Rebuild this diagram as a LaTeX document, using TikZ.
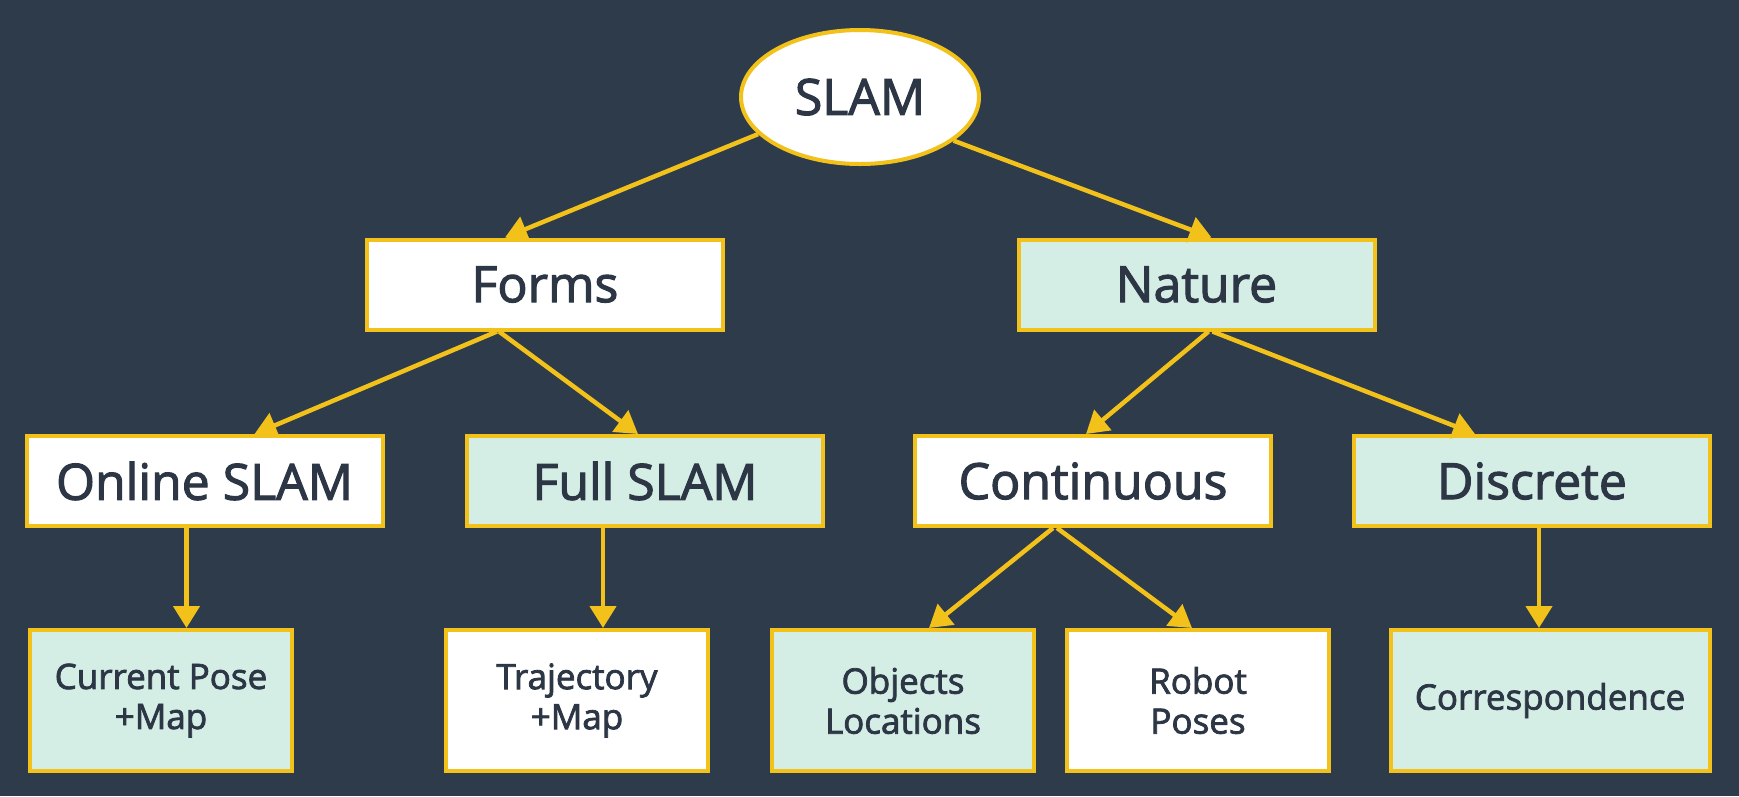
\documentclass[tikz,border=0pt]{standalone}
\usepackage{fontspec}
\setmainfont{Open Sans}[RawFeature={embolden=2.2}]
\usetikzlibrary{arrows.meta,shapes.geometric,calc}
\definecolor{bgnavy}{HTML}{2E3B4A}
\definecolor{gold}{HTML}{F2C21B}
\definecolor{mint}{HTML}{D4EEE5}
\definecolor{inktext}{HTML}{2C3645}
\begin{document}
\begin{tikzpicture}[x=1pt,y=-1pt,
  box/.style={draw=gold,line width=4pt,rectangle,inner sep=0pt,
    text=inktext,align=center},
  bigbox/.style={box,minimum width=356pt,minimum height=90pt,
    font=\fontsize{50}{54}\selectfont},
  leafbox/.style={box,minimum width=262pt,minimum height=141pt,
    font=\fontsize{35}{40}\selectfont},
  white/.style={fill=white},
  tint/.style={fill=mint},
  link/.style={draw=gold,line width=4.5pt,
    -{Triangle[length=22pt,width=26pt]}}]
  % background
  \fill[bgnavy] (0,0) rectangle (1739,796);
  \useasboundingbox (0,0) rectangle (1739,796);

  % root
  \node[ellipse,draw=gold,line width=4pt,fill=white,minimum width=238pt,
    minimum height=134pt,inner sep=0pt,text=inktext,
    font=\fontsize{50}{54}\selectfont] (slam) at (860,97) {SLAM};

  % second level
  \node[bigbox,white] (forms)  at (545,284.5)  {Forms};
  \node[bigbox,tint]  (nature) at (1196.5,284.5) {Nature};

  % third level
  \node[bigbox,white] (online) at (204.5,481) {Online SLAM};
  \node[bigbox,tint]  (full)   at (645,481)   {Full SLAM};
  \node[bigbox,white] (cont)   at (1093,481)  {Continuous};
  \node[bigbox,tint]  (disc)   at (1532,481)  {Discrete};

  % leaves
  \node[leafbox,tint]  (cur)  at (161,700.5)  {Current Pose\\+Map};
  \node[leafbox,white] (traj) at (577,700.5)  {Trajectory\\+Map};
  \node[leafbox,tint]  (obj)  at (903,700.5)  {Objects\\Locations};
  \node[leafbox,white] (rob)  at (1198,700.5) {Robot\\Poses};
  \node[leafbox,tint,minimum width=319pt] (corr) at (1550,700.5) {Correspondence};

  % connectors
  \draw[link] (slam.200) -- ($(forms.north)+(-40,0)$);
  \draw[link] (slam.335) -- ($(nature.north)+(15,0)$);

  \draw[link] ($(forms.south)+(-48,0)$) -- ($(online.north)+(50,0)$);
  \draw[link] ($(forms.south)+(-46,0)$) -- ($(full.north)+(-7,0)$);
  \draw[link] ($(nature.south)+(12,0)$) -- ($(cont.north)+(-7,0)$);
  \draw[link] ($(nature.south)+(16,0)$) -- ($(disc.north)+(-57,0)$);

  \draw[link] ($(online.south)+(-18,0)$) -- ($(cur.north)+(25.5,0)$);
  \draw[link] ($(full.south)+(-42,0)$) -- ($(traj.north)+(26,0)$);
  \draw[link] ($(cont.south)+(-40,0)$) -- ($(obj.north)+(26,0)$);
  \draw[link] ($(cont.south)+(-36,0)$) -- ($(rob.north)+(-6,0)$);
  \draw[link] ($(disc.south)+(7,0)$) -- ($(corr.north)+(-11,0)$);
\end{tikzpicture}
\end{document}
